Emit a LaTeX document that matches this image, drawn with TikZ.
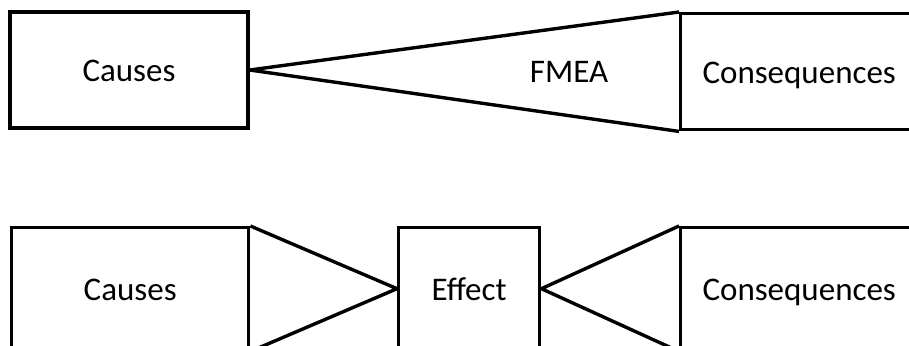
\documentclass[tikz,border=0pt]{standalone}
\usepackage{fontspec}
\setmainfont{Carlito}
\begin{document}
\begin{tikzpicture}[x=1pt,y=-1pt,
  box/.style={draw=black,line width=3.4pt,rectangle,inner sep=0pt,
    text height=25.5pt,text depth=2.5pt,
    font=\fontsize{33}{40}\selectfont},
  edge/.style={draw=black,line width=3.4pt,line join=bevel,line cap=butt}]
\useasboundingbox (0,0) rectangle (909,345);
\clip (0,0) rectangle (909,345);
\fill[white] (0,0) rectangle (909,345);
% FMEA row
\node[box,minimum width=238pt,minimum height=116pt] (c1) at (129,70) {Causes};
\node[box,minimum width=237pt,minimum height=116pt,anchor=north west] (q1) at (679,12) {Consequences};
\node[font=\fontsize{33}{40}\selectfont,inner sep=0pt,anchor=base] (fmea) at (569,82) {FMEA};
\draw[edge] (q1.north west) -- (c1.east) -- (q1.south west);
% cause-effect row
\node[box,minimum width=237pt,minimum height=122pt,anchor=north west] (c2) at (10,226) {Causes};
\node[box,minimum width=141pt,minimum height=122pt,anchor=north west] (e) at (397,226) {Effect};
\node[box,minimum width=237pt,minimum height=122pt,anchor=north west] (q2) at (679,226) {Consequences};
\draw[edge] (c2.north east) -- (e.west) -- (c2.south east);
\draw[edge] (q2.north west) -- (e.east) -- (q2.south west);
\end{tikzpicture}
\end{document}
